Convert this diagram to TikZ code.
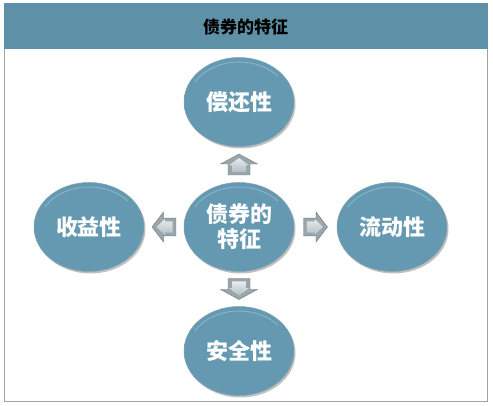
\documentclass[tikz,border=0pt]{standalone}
\usepackage{fontspec}
\newfontfamily\cjk{Noto Sans CJK SC}
\usetikzlibrary{shapes.geometric,shadows,calc}
\definecolor{barC}{HTML}{5E91A7}
\definecolor{elC}{HTML}{6499B1}
\definecolor{elD}{HTML}{4C7B90}
\definecolor{elE}{HTML}{2A4A59}
\definecolor{elH}{HTML}{9CC6D8}
\definecolor{frameC}{HTML}{A3A3A3}
\definecolor{arA}{HTML}{9AA6AC}
\definecolor{arB}{HTML}{E6ECEF}
\definecolor{arC}{HTML}{B3BEC4}
\definecolor{arL}{HTML}{6F7D84}
\pgfdeclareradialshading{ellbev}{\pgfpoint{-4bp}{5bp}}{color(0bp)=(elC); color(40bp)=(elC); color(47bp)=(elD); color(56bp)=(elE)}
\tikzset{
  feat/.style={ellipse, minimum width=110pt, minimum height=89pt, inner sep=0pt,
    shading=ellbev, draw=elD!70, line width=0.5pt,
    drop shadow={shadow xshift=1.5pt, shadow yshift=-2pt, opacity=.35, fill=black!70},
    text=white, font=\cjk\bfseries\fontsize{22}{25}\selectfont, align=center},
  titletext/.style={font=\cjk\bfseries\fontsize{17}{20}\selectfont, text=black},
  barrow/.pic={
    \path[fill=arA, draw=arL, line width=0.4pt]
      (0,10.5) -- (18.5,0.5) -- (11,0.5) -- (11,-10.5) -- (-11,-10.5) -- (-11,0.5) -- (-18.5,0.5) -- cycle;
    \path[top color=arB, bottom color=arC]
      (0,6.5) -- (10,-0.8) -- (6.8,-0.8) -- (6.8,-7.5) -- (-6.8,-7.5) -- (-6.8,-0.8) -- (-10,-0.8) -- cycle;
  }
}
\begin{document}
\begin{tikzpicture}[x=1pt,y=1pt]
\useasboundingbox (0,0) rectangle (493,406);
\fill[white] (0,0) rectangle (493,406);
\draw[frameC, line width=0.8pt] (4.5,5) rectangle (487,402);
\fill[barC] (4,357) rectangle (487.5,403);
\node[titletext] (title) at (245.5,379) {债券的特征};
\node[feat] (c) at (239,179) {债券的\\特征};
\node[feat] (t) at (239,304) {偿还性};
\node[feat] (b) at (239,55) {安全性};
\node[feat] (l) at (89,179) {收益性};
\node[feat] (r) at (392,179) {流动性};
\foreach \n in {c,t,b,l,r}{
  \draw[elH, opacity=.6, line width=1pt] ($(\n.center)+(150:51 and 40)$) arc[start angle=150, end angle=40, x radius=51pt, y radius=40pt];
}
\pic at ($(c.north)!0.5!(t.south)$) {barrow};
\pic[rotate=180] at ($(c.south)!0.5!(b.north)$) {barrow};
\pic[rotate=90, xscale=0.81, yscale=1.14] at ($(c.west)!0.5!(l.east)$) {barrow};
\pic[rotate=-90, xscale=0.81, yscale=1.14] at ($(c.east)!0.5!(r.west)$) {barrow};
\end{tikzpicture}
\end{document}
